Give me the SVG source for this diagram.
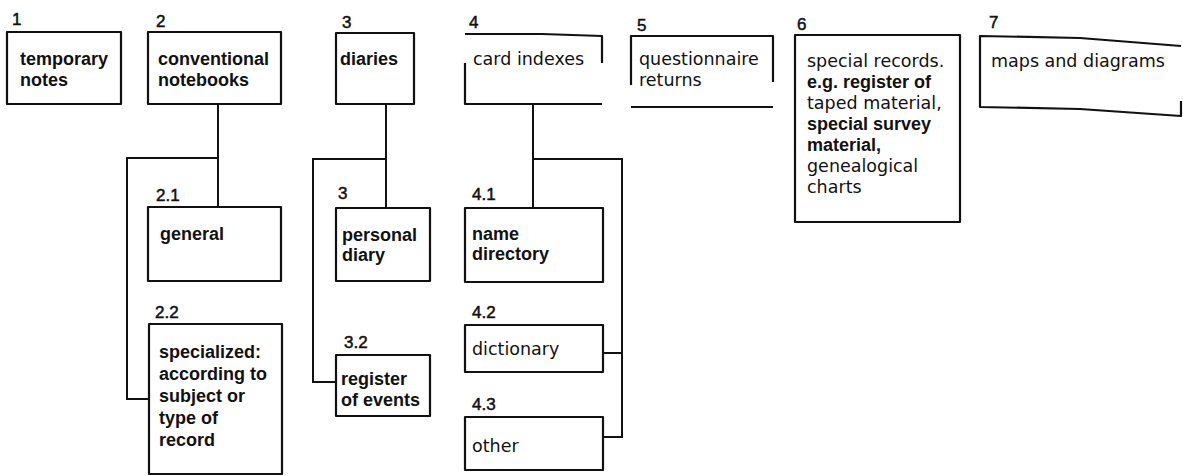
<svg xmlns="http://www.w3.org/2000/svg" width="1183" height="476" viewBox="0 0 1183 476">
  <style>
    .box { fill: none; stroke: #111; stroke-width: 2.2; stroke-linejoin: round; }
    .wire { fill: none; stroke: #111; stroke-width: 2; }
    .num { font-family: "Liberation Sans", Arial, sans-serif; font-size: 17px; fill: #111; stroke: #111; stroke-width: 0.5; }
    .b { font-family: "Liberation Sans", Arial, sans-serif; font-weight: bold; font-size: 18px; fill: #111; }
    .r { font-family: "DejaVu Sans", "Liberation Sans", sans-serif; font-size: 17.5px; fill: #111; }
  </style>
  <rect width="1183" height="476" fill="#fff"/>

  <g id="connectors">
    <path class="wire" d="M218,104 V207"/>
    <path class="wire" d="M218,158 H127 V399 H149"/>
    <path class="wire" d="M386,104 V208"/>
    <path class="wire" d="M386,159 H313 V382 H336"/>
    <path class="wire" d="M533,104 V208"/>
    <path class="wire" d="M533,159 H622 V437 H603"/>
    <path class="wire" d="M603,353 H622"/>
  </g>

  <g id="n1">
    <text class="num" x="12" y="25">1</text>
    <rect class="box" x="7" y="32" width="114" height="72"/>
    <text class="b" x="20" y="65">temporary</text>
    <text class="b" x="20" y="86">notes</text>
  </g>

  <g id="n2">
    <text class="num" x="156" y="27">2</text>
    <rect class="box" x="148" y="32" width="133" height="72"/>
    <text class="b" x="158" y="65">conventional</text>
    <text class="b" x="158" y="86">notebooks</text>
  </g>

  <g id="n3">
    <text class="num" x="342" y="28">3</text>
    <rect class="box" x="336" y="33" width="78" height="71"/>
    <text class="b" x="340" y="65">diaries</text>
  </g>

  <g id="n4">
    <text class="num" x="469" y="28">4</text>
    <path class="box" d="M465,34 H542 L602,36 V63 M465,63 V104 H602"/>
    <text class="r" x="473" y="65">card indexes</text>
  </g>

  <g id="n5">
    <text class="num" x="637" y="31">5</text>
    <path class="box" d="M631,85 V36 H773 V82 M631,107 H773"/>
    <text class="r" x="639" y="65">questionnaire</text>
    <text class="r" x="639" y="86">returns</text>
  </g>

  <g id="n6">
    <text class="num" x="797" y="30">6</text>
    <rect class="box" x="795" y="35" width="165" height="187"/>
    <text class="r" x="807" y="67">special records.</text>
    <text class="b" x="807" y="88">e.g. register of</text>
    <text class="r" x="807" y="109">taped material,</text>
    <text class="b" x="807" y="130">special survey</text>
    <text class="b" x="807" y="151">material,</text>
    <text class="r" x="807" y="172">genealogical</text>
    <text class="r" x="807" y="193">charts</text>
  </g>

  <g id="n7">
    <text class="num" x="989" y="28">7</text>
    <path class="box" d="M1181,46 L1080,38 L980,36 V107 L1080,109 L1181,116 V101"/>
    <text class="r" x="991" y="67">maps and diagrams</text>
  </g>

  <g id="n2-1">
    <text class="num" x="156" y="201">2.1</text>
    <rect class="box" x="148" y="207" width="133" height="74"/>
    <text class="b" x="160" y="240">general</text>
  </g>

  <g id="n2-2">
    <text class="num" x="155" y="318">2.2</text>
    <rect class="box" x="149" y="324" width="133" height="150"/>
    <text class="b" x="159" y="358">specialized:</text>
    <text class="b" x="159" y="380">according to</text>
    <text class="b" x="159" y="402">subject or</text>
    <text class="b" x="159" y="424">type of</text>
    <text class="b" x="159" y="446">record</text>
  </g>

  <g id="n3-1">
    <text class="num" x="338" y="199">3</text>
    <rect class="box" x="336" y="208" width="94" height="73"/>
    <text class="b" x="342" y="241">personal</text>
    <text class="b" x="342" y="261">diary</text>
  </g>

  <g id="n3-2">
    <text class="num" x="344" y="348">3.2</text>
    <rect class="box" x="336" y="355" width="94" height="61"/>
    <text class="b" x="341" y="385">register</text>
    <text class="b" x="341" y="406">of events</text>
  </g>

  <g id="n4-1">
    <text class="num" x="472" y="200">4.1</text>
    <rect class="box" x="465" y="208" width="138" height="74"/>
    <text class="b" x="472" y="240">name</text>
    <text class="b" x="472" y="260">directory</text>
  </g>

  <g id="n4-2">
    <text class="num" x="472" y="318">4.2</text>
    <rect class="box" x="465" y="325" width="138" height="47"/>
    <text class="r" x="472" y="355">dictionary</text>
  </g>

  <g id="n4-3">
    <text class="num" x="472" y="410">4.3</text>
    <rect class="box" x="465" y="417" width="138" height="53"/>
    <text class="r" x="472" y="452">other</text>
  </g>
</svg>
